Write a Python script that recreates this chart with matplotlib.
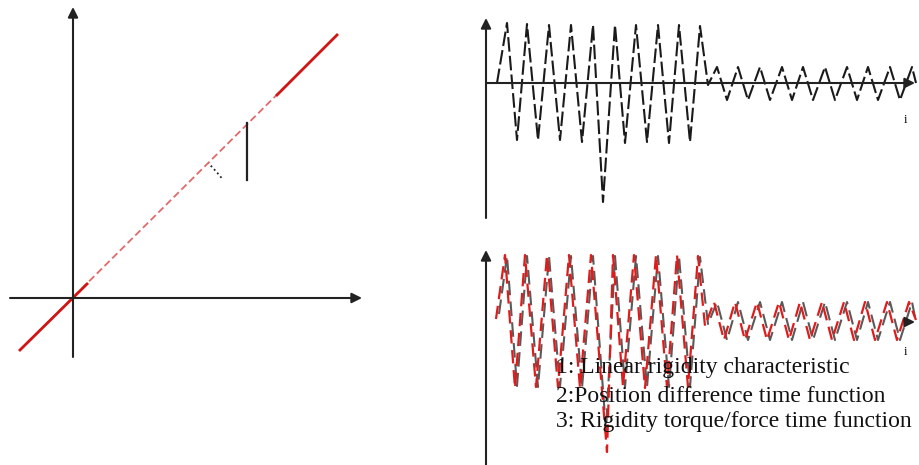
import matplotlib.pyplot as plt
from matplotlib.patches import Arc

# left diagram (origin = axis crossing, units ~px)
line_x = [-53, 264]
line_y = [-52, 263]
line_lo_x = [-53, 14]
line_lo_y = [-52, 14]
line_hi_x = [204, 264]
line_hi_y = [203, 263]
mark_x = [174, 174]
mark_y = [118, 175]

# top right: position difference time function (extrema)
top_x = [11, 21, 31, 41, 52, 63, 74, 85, 96, 107,
         117, 129, 139, 150, 161, 172, 183, 193, 204, 214,
         222, 231, 241, 252, 262, 274, 284, 296, 306, 317,
         327, 339, 349, 361, 371, 382, 392, 404, 414, 426, 430]
top_y = [0, 60, -57, 59, -57, 58, -57, 58, -59, 58,
         -119, 58, -60, 58, -59, 58, -60, 58, -59, 57,
         -2, 16, -17, 16, -17, 16, -17, 16, -17, 16,
         -17, 16, -17, 16, -17, 16, -17, 16, -17, 16, 0]

# bottom right: gray and red curves
gray_x = [13, 21, 31, 41, 52, 63, 74, 85, 96, 107,
          120, 129, 139, 150, 161, 172, 183, 193, 204, 214,
          222, 231, 241, 252, 262, 274, 284, 296, 306, 317,
          327, 339, 349, 361, 371, 382, 392, 404, 414, 426, 430]
gray_y = [8, 66, -64, 66, -65, 66, -65, 66, -66, 66,
          -108, 66, -65, 66, -65, 66, -65, 66, -65, 65,
          -2, 20, -18, 20, -18, 20, -18, 20, -18, 20,
          -18, 20, -18, 20, -18, 20, -18, 20, -18, 20, 0]
red_x = [10, 19, 29, 39, 50, 61, 72, 83, 94, 105,
         121, 127, 137, 148, 159, 170, 181, 191, 202, 212,
         219, 228, 238, 249, 259, 271, 281, 293, 303, 314,
         324, 336, 346, 358, 368, 379, 389, 401, 411, 423, 430]
red_y = [3, 67, -66, 67, -65, 67, -65, 67, -66, 67,
         -130, 67, -65, 67, -66, 67, -65, 67, -65, 66,
         -4, 20, -18, 20, -18, 20, -18, 20, -18, 20,
         -18, 20, -18, 20, -18, 20, -18, 20, -18, 20, 2]

legend_lines = ["1: Linear rigidity characteristic",
                "2:Position difference time function",
                "3: Rigidity torque/force time function"]

W, H = 919, 465
fig = plt.figure(figsize=(W / 100, H / 100), dpi=100)
axc = '#222222'
arr = dict(arrowstyle='-|>,head_length=0.6,head_width=0.3', color=axc, lw=1.5,
           shrinkA=0, shrinkB=0)

def axis_arrow(ax, start, tip):
    ax.annotate('', xy=tip, xytext=start, arrowprops=arr, annotation_clip=False)

# ---- left panel
ax1 = fig.add_axes([0, 0, 380 / W, 1])
ax1.set_xlim(-73, 307)
ax1.set_ylim(298 - H, 298)
ax1.axis('off')
axis_arrow(ax1, (0, -59), (0, 291))
axis_arrow(ax1, (-63, 0), (289, 0))
ax1.plot(line_x, line_y, color='#e06a6a', lw=1.3, ls=(0, (4, 2)))
ax1.plot(line_lo_x, line_lo_y, color='#d01515', lw=2)
ax1.plot(line_hi_x, line_hi_y, color='#d01515', lw=2)
ax1.plot(mark_x, mark_y, color=axc, lw=1.6)
ax1.add_patch(Arc((0, 0), 382, 382, theta1=39, theta2=45, color=axc, lw=1.3, ls=':'))

# ---- top right
ax2 = fig.add_axes([470 / W, 235 / H, 449 / W, 230 / H])
ax2.set_xlim(-16, 433)
ax2.set_ylim(83 - 230, 83)
ax2.axis('off')
axis_arrow(ax2, (0, -135), (0, 65))
axis_arrow(ax2, (0, 0), (429, 0))
ax2.plot(top_x, top_y, color='#1a1a1a', lw=1.5, ls=(0, (7, 2)))
ax2.text(419, -37, 'i', fontsize=9, family='Liberation Serif', ha='center', va='center')

# ---- bottom right
ax3 = fig.add_axes([470 / W, 0, 449 / W, 235 / H])
ax3.set_xlim(-16, 433)
ax3.set_ylim(322 - 465, 322 - 230)
ax3.axis('off')
axis_arrow(ax3, (0, -143), (0, 72))
axis_arrow(ax3, (422, 0), (429, 0))
ax3.plot(gray_x, gray_y, color='#5a5a5a', lw=1.5, ls=(0, (7, 3)))
ax3.plot(red_x, red_y, color='#e01b1b', lw=1.6, ls=(0, (6, 3)))
ax3.text(419, -30, 'i', fontsize=9, family='Liberation Serif', ha='center', va='center')
for txt, yb in zip(legend_lines, [-51, -80, -105]):
    ax3.text(70, yb, txt, fontsize=17, family='Liberation Serif', color='#111111',
             va='baseline', ha='left')

fig.savefig('out.png', dpi=100)
